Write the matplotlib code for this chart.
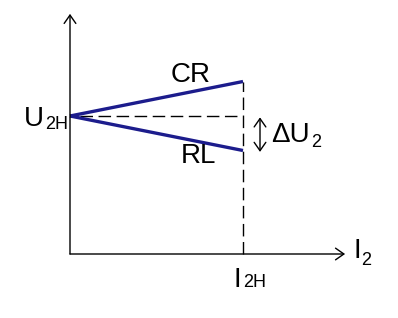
import matplotlib
matplotlib.use("Agg")
import matplotlib.pyplot as plt

# Data (normalized: I2H = 1, U2H = 1)
current = [0.0, 1.0]          # I2 from 0 to I2H
u_cr = [1.0, 1.25]            # CR load characteristic
u_rl = [1.0, 0.75]            # RL load characteristic
u_nominal = 1.0               # U2H
i_nominal = 1.0               # I2H
axis_x_end = 1.59
axis_y_end = 1.74

plt.rcParams['font.family'] = ['Liberation Sans', 'DejaVu Sans']

fig = plt.figure(figsize=(3.98, 3.18), dpi=100)
ax = fig.add_axes([0, 0, 1, 1])
# map: x=0 -> px 70, x=1 -> px 243 ; y=0 -> py 254, y=1 -> py 116
sx, sy = 173.0, 138.0
ax.set_xlim(-70 / sx, (398 - 70) / sx)
ax.set_ylim(-(318 - 254) / sy, 254 / sy)
ax.axis('off')

blue = '#1c1c8c'
arrow_kw = dict(arrowstyle='->,head_length=0.6,head_width=0.42', color='black', lw=1.0,
                shrinkA=0, shrinkB=0)
# axes
ax.annotate('', xy=(0, axis_y_end), xytext=(0, 0), arrowprops=arrow_kw)
ax.annotate('', xy=(axis_x_end, 0), xytext=(0, 0), arrowprops=arrow_kw)

# dashed guides
ax.plot([0.06, i_nominal], [u_nominal, u_nominal], color='black', lw=1.0,
        dashes=(9, 4))
ax.plot([i_nominal, i_nominal], [0, u_cr[1]], color='black', lw=1.0,
        dashes=(9, 4))

# characteristics
ax.plot(current, u_cr, color=blue, lw=2.4, solid_capstyle='butt')
ax.plot(current, u_rl, color=blue, lw=2.4, solid_capstyle='butt')

# delta U arrow
dx = 1.0 + 17 / sx
ax.annotate('', xy=(dx, u_rl[1] - 0.01), xytext=(dx, u_nominal - 0.01),
            arrowprops=dict(arrowstyle='<->,head_length=0.6,head_width=0.42',
                            color='black', lw=1.0, shrinkA=0, shrinkB=0))

def px(x, y):
    return ((x - 70) / sx, (254 - y) / sy)

fs = 20
fss = 13
def lab(main, sub, x, y, subx, suby):
    ax.text(*px(x, y), main, fontsize=fs, ha='left', va='baseline')
    if sub:
        ax.text(*px(subx, suby), sub, fontsize=fss, ha='left', va='baseline')

lab('U', '2H', 24, 126, 45, 129)
lab('CR', None, 171, 82, 0, 0)
lab('RL', None, 181, 163, 0, 0)
lab('\u0394U', '2', 271, 142, 311, 147)
lab('I', '2', 353, 258, 361, 265)
lab('I', '2H', 234, 287, 243, 287)

fig.savefig('out.png', dpi=100)
